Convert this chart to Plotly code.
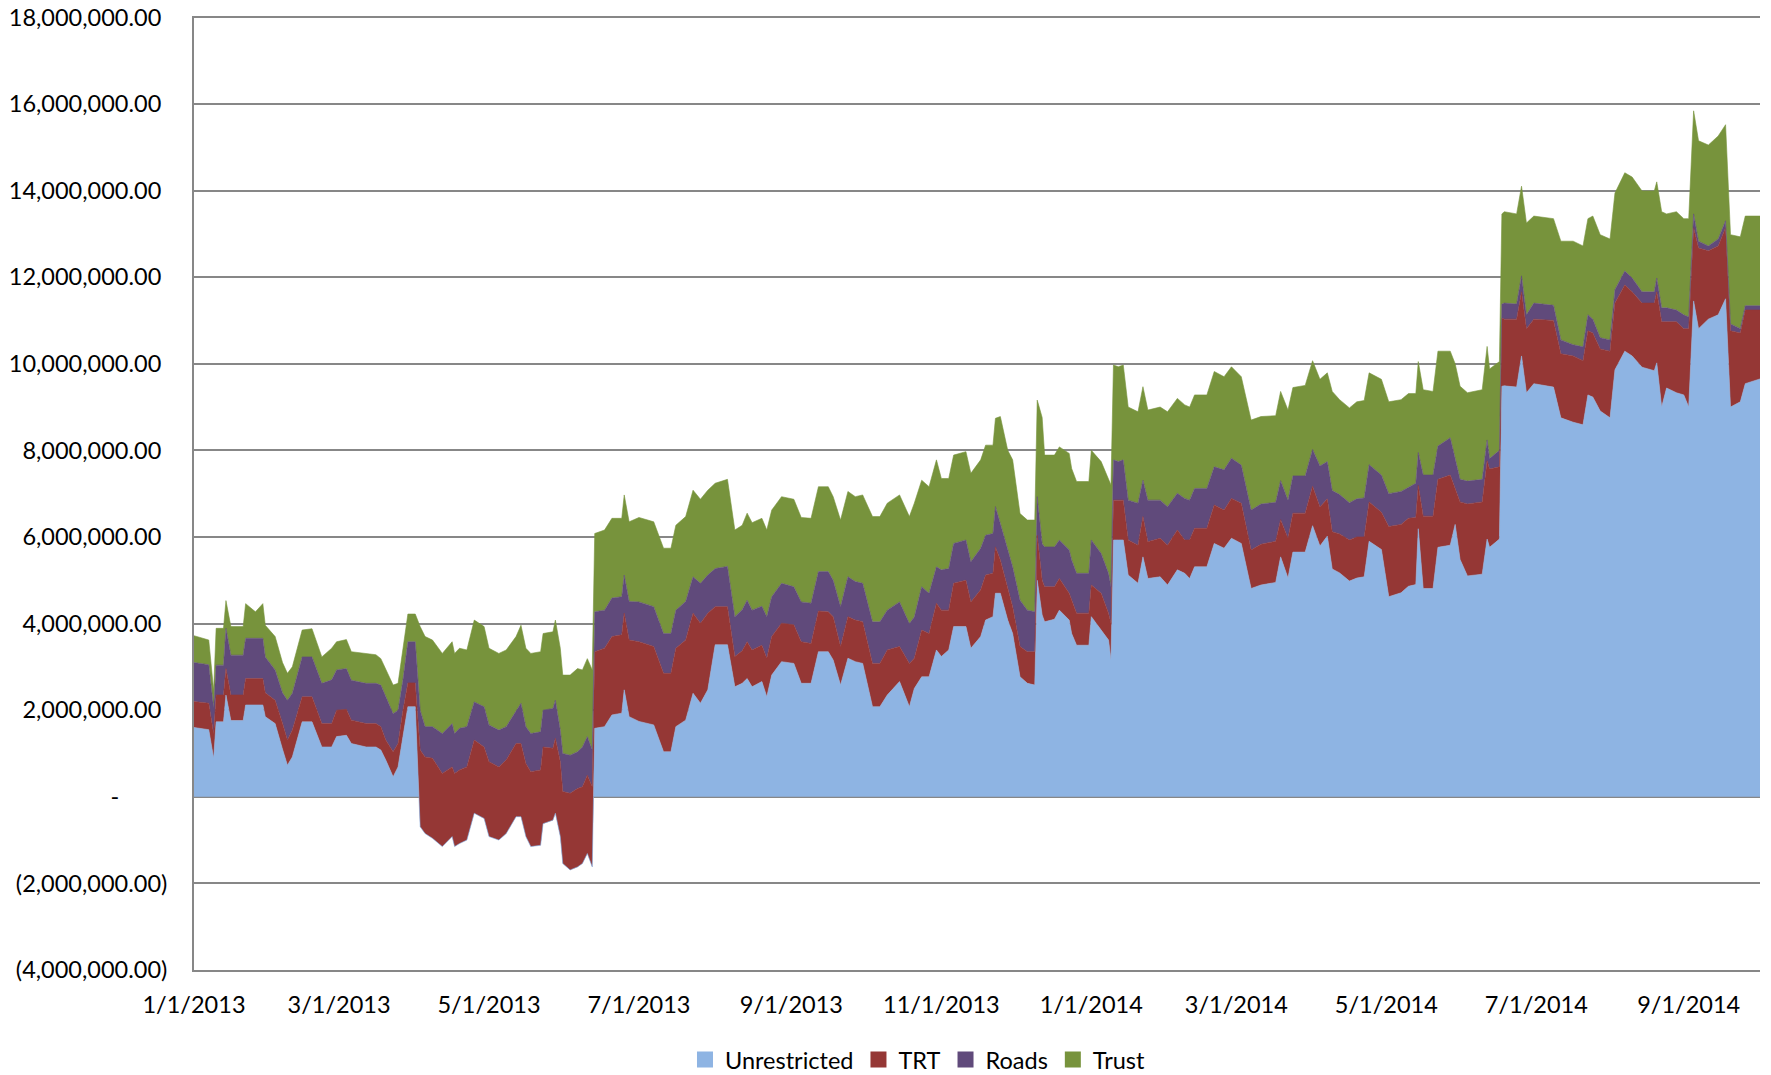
import plotly.graph_objects as go

dates = [
    "2013-01-01","2013-01-07","2013-01-09","2013-01-10","2013-01-13","2013-01-14","2013-01-16","2013-01-21",
    "2013-01-22","2013-01-26","2013-01-29","2013-01-30","2013-02-03","2013-02-06","2013-02-08","2013-02-10",
    "2013-02-14","2013-02-18","2013-02-22","2013-02-26","2013-02-28","2013-03-04","2013-03-06","2013-03-12",
    "2013-03-16","2013-03-18","2013-03-20","2013-03-23","2013-03-25","2013-03-27","2013-03-29","2013-04-01",
    "2013-04-03","2013-04-05","2013-04-08","2013-04-12","2013-04-16","2013-04-17","2013-04-19","2013-04-22",
    "2013-04-25","2013-04-29","2013-05-01","2013-05-05","2013-05-08","2013-05-12","2013-05-14","2013-05-16",
    "2013-05-18","2013-05-22","2013-05-23","2013-05-27","2013-05-28","2013-05-30","2013-05-31","2013-06-03",
    "2013-06-06","2013-06-08","2013-06-10","2013-06-12","2013-06-13","2013-06-17","2013-06-20","2013-06-24",
    "2013-06-25","2013-06-27","2013-07-01","2013-07-07","2013-07-11","2013-07-14","2013-07-16","2013-07-20",
    "2013-07-23","2013-07-26","2013-07-29","2013-08-01","2013-08-06","2013-08-09","2013-08-12","2013-08-14",
    "2013-08-16","2013-08-20","2013-08-22","2013-08-24","2013-08-28","2013-09-02","2013-09-05","2013-09-09",
    "2013-09-12","2013-09-16","2013-09-18","2013-09-21","2013-09-24","2013-09-27","2013-09-30","2013-10-04",
    "2013-10-07","2013-10-10","2013-10-15","2013-10-19","2013-10-21","2013-10-24","2013-10-27","2013-10-30",
    "2013-11-01","2013-11-04","2013-11-06","2013-11-11","2013-11-13","2013-11-17","2013-11-19","2013-11-22",
    "2013-11-23","2013-11-25","2013-11-28","2013-11-30","2013-12-03","2013-12-06","2013-12-09","2013-12-10",
    "2013-12-12","2013-12-13","2013-12-17","2013-12-19","2013-12-23","2013-12-24","2013-12-26","2013-12-31",
    "2014-01-01","2014-01-05","2014-01-08","2014-01-09","2014-01-10","2014-01-12","2014-01-14","2014-01-16",
    "2014-01-20","2014-01-22","2014-01-24","2014-01-29","2014-02-01","2014-02-05","2014-02-08","2014-02-10",
    "2014-02-12","2014-02-17","2014-02-20","2014-02-24","2014-02-27","2014-03-03","2014-03-07","2014-03-11",
    "2014-03-17","2014-03-19","2014-03-22","2014-03-24","2014-03-29","2014-04-01","2014-04-04","2014-04-07",
    "2014-04-09","2014-04-12","2014-04-16","2014-04-19","2014-04-22","2014-04-24","2014-04-29","2014-05-02",
    "2014-05-07","2014-05-10","2014-05-13","2014-05-14","2014-05-16","2014-05-20","2014-05-22","2014-05-27",
    "2014-05-29","2014-05-31","2014-06-03","2014-06-09","2014-06-11","2014-06-12","2014-06-16","2014-06-17",
    "2014-06-18","2014-06-23","2014-06-25","2014-06-27","2014-06-30","2014-07-08","2014-07-11","2014-07-16",
    "2014-07-20","2014-07-22","2014-07-24","2014-07-27","2014-07-31","2014-08-02","2014-08-06","2014-08-09",
    "2014-08-13","2014-08-18","2014-08-19","2014-08-21","2014-08-23","2014-08-27","2014-08-30","2014-09-01",
    "2014-09-03","2014-09-05","2014-09-09","2014-09-13","2014-09-16","2014-09-18","2014-09-22","2014-09-24",
    "2014-09-30",
]

# values in millions
unrestricted = [
    1.60,1.55,0.89,1.73,1.73,2.35,1.76,1.76,2.12,2.12,2.12,1.85,1.69,1.10,0.73,0.92,
    1.73,1.73,1.15,1.15,1.39,1.42,1.23,1.15,1.15,1.08,0.85,0.46,0.69,1.39,2.08,2.08,
    -0.69,-0.85,-0.96,-1.15,-0.92,-1.15,-1.08,-1.00,-0.38,-0.50,-0.92,-1.00,-0.85,-0.46,-0.46,-0.92,
    -1.15,-1.12,-0.62,-0.54,-0.38,-0.92,-1.54,-1.69,-1.62,-1.54,-1.31,-1.62,1.58,1.62,1.89,1.93,
    2.47,1.85,1.74,1.66,1.04,1.04,1.62,1.77,2.39,2.16,2.47,3.51,3.51,2.54,2.62,2.73,
    2.54,2.66,2.31,2.81,3.12,3.08,2.62,2.62,3.35,3.35,3.16,2.58,3.20,3.12,3.08,2.08,
    2.08,2.35,2.66,2.08,2.50,2.77,2.77,3.39,3.24,3.39,3.93,3.93,3.43,3.70,4.08,4.16,
    4.70,4.70,4.08,3.77,2.77,2.62,2.58,5.00,4.20,4.04,4.10,4.31,4.08,3.77,3.50,3.50,
    4.16,3.85,3.62,3.16,5.93,5.93,5.93,5.12,4.93,5.54,5.04,5.08,4.89,5.24,5.16,5.04,
    5.31,5.31,5.85,5.74,5.97,5.85,4.81,4.89,4.95,5.54,5.05,5.65,5.65,6.26,5.79,6.02,
    5.26,5.17,4.98,5.05,5.08,5.90,5.71,4.62,4.71,4.86,4.90,6.19,4.81,4.81,5.76,5.81,
    6.29,5.48,5.10,5.14,5.95,5.76,5.95,9.48,9.49,9.46,10.18,9.33,9.54,9.46,8.75,8.65,
    8.59,9.28,9.23,8.91,8.75,9.86,10.29,10.18,9.92,9.84,10.02,9.00,9.44,9.33,9.28,9.00,
    11.45,10.81,11.03,11.13,11.50,9.00,9.12,9.54,9.65,
]
trt = [
    0.60,0.61,0.56,0.62,0.62,0.61,0.59,0.59,0.61,0.61,0.61,0.55,0.54,0.60,0.58,0.62,
    0.58,0.58,0.54,0.54,0.61,0.60,0.54,0.54,0.54,0.54,0.46,0.58,0.54,0.61,0.55,0.55,
    1.77,1.77,1.85,1.69,1.61,1.69,1.70,1.69,1.69,1.65,1.73,1.69,1.70,1.69,1.69,1.69,
    1.73,1.74,1.77,1.66,1.73,1.73,1.66,1.77,1.81,1.77,1.81,1.85,1.77,1.81,1.81,1.81,
    1.77,1.77,1.84,1.81,1.81,1.81,1.81,1.85,1.85,1.85,1.77,0.88,0.88,0.70,0.75,0.85,
    0.85,0.84,0.89,0.89,0.89,0.89,0.96,0.92,0.94,0.92,1.00,0.89,0.96,0.96,0.96,1.00,
    1.00,1.04,0.81,1.00,0.70,1.08,1.00,1.08,1.07,0.92,1.00,1.07,1.07,1.08,1.04,1.00,
    1.07,0.77,0.77,0.62,0.70,0.73,0.77,1.04,0.80,0.81,0.75,0.73,0.62,0.77,0.74,0.74,
    0.73,0.85,0.62,0.84,0.92,0.92,0.92,0.81,0.88,0.93,0.85,0.89,0.92,0.92,0.77,0.89,
    0.89,0.89,0.89,0.88,0.92,0.93,0.89,0.94,0.95,0.86,0.92,0.90,0.90,0.91,0.90,0.86,
    0.86,0.90,0.95,0.95,0.92,0.91,0.86,1.62,1.58,1.57,1.55,1.00,1.67,1.67,1.57,1.62,
    0.85,1.33,1.66,1.67,1.81,1.81,1.67,1.57,1.54,1.57,1.48,1.48,1.49,1.54,1.48,1.53,
    1.48,1.48,1.48,1.43,1.54,1.54,1.53,1.48,1.48,1.56,1.64,1.97,1.53,1.64,1.53,1.81,
    1.69,1.86,1.58,1.59,1.64,1.76,1.59,1.70,1.59,
]
roads = [
    0.90,0.89,0.60,0.69,0.69,0.93,0.92,0.92,0.93,0.93,0.93,0.83,0.70,0.70,0.92,0.85,
    0.92,0.92,0.93,1.01,0.93,0.94,0.92,0.93,0.93,0.96,1.00,0.88,0.77,0.70,0.95,0.95,
    0.92,0.70,0.73,0.92,1.00,0.92,0.96,0.93,0.88,0.93,0.85,0.85,0.77,0.77,0.93,0.85,
    0.88,0.88,0.85,0.92,0.88,0.73,0.88,0.88,0.85,0.92,0.89,0.85,0.92,0.88,0.89,0.88,
    0.88,0.89,0.92,0.92,0.92,0.92,0.88,0.89,0.84,0.92,0.88,0.88,0.93,0.92,0.95,0.96,
    0.92,0.90,0.96,0.92,0.92,0.88,0.92,0.93,0.91,0.93,0.84,0.92,0.92,0.89,0.89,0.96,
    0.96,0.92,1.03,0.92,0.95,1.00,0.93,0.84,0.93,0.96,0.92,0.93,0.93,0.96,0.92,0.92,
    0.93,0.84,0.85,0.92,1.07,0.96,0.92,0.89,0.85,0.92,0.92,0.89,1.00,0.93,0.92,0.92,
    1.04,0.92,0.92,0.85,0.93,0.89,0.93,0.92,0.97,0.84,0.96,0.88,0.89,0.85,0.96,0.92,
    0.92,0.92,0.88,0.93,0.93,0.88,0.92,0.93,0.90,0.90,0.88,0.86,0.86,0.85,0.95,0.86,
    0.95,0.91,0.86,0.88,0.90,0.86,0.86,0.76,0.76,0.71,0.79,0.76,0.95,0.95,0.77,0.86,
    0.67,0.52,0.53,0.52,0.48,0.24,0.38,0.33,0.37,0.35,0.37,0.32,0.37,0.35,0.32,0.26,
    0.32,0.37,0.32,0.26,0.26,0.31,0.32,0.32,0.26,0.26,0.32,0.32,0.32,0.27,0.32,0.27,
    0.32,0.16,0.11,0.16,0.16,0.16,0.10,0.10,0.10,
]
trust = [
    0.62,0.57,0.41,0.85,0.85,0.64,0.66,0.66,0.80,0.61,0.80,0.73,0.77,0.70,0.62,0.61,
    0.62,0.65,0.61,0.73,0.65,0.67,0.66,0.69,0.66,0.61,0.62,0.66,0.62,0.73,0.64,0.64,
    1.93,2.08,2.00,1.85,1.89,1.85,1.85,1.77,1.89,1.85,1.77,1.77,1.77,1.70,1.80,1.81,
    1.85,1.85,1.77,1.77,1.85,1.89,1.81,1.85,1.92,1.78,1.80,1.85,1.81,1.85,1.84,1.81,
    1.85,1.84,1.95,1.96,1.97,1.97,1.96,1.96,2.00,1.94,1.96,1.97,2.01,2.00,1.95,2.01,
    2.02,2.03,2.00,2.00,2.00,2.02,1.95,1.96,1.96,1.96,1.93,2.00,1.97,1.96,2.04,2.43,
    2.43,2.47,2.47,2.47,2.63,2.46,2.46,2.47,2.11,2.08,2.04,2.04,2.04,2.04,2.08,2.04,
    2.04,2.47,2.30,2.47,2.00,2.08,2.12,2.23,2.91,2.12,2.12,2.15,2.23,2.11,2.12,2.12,
    2.07,2.12,2.15,2.35,2.19,2.19,2.19,2.15,2.11,2.16,2.08,2.15,2.19,2.19,2.16,2.15,
    2.16,2.16,2.20,2.15,2.11,2.04,2.08,2.02,2.00,2.06,2.08,2.04,2.09,2.05,2.00,2.05,
    2.29,2.19,2.19,2.24,2.25,2.12,2.21,2.12,2.12,2.17,2.07,2.10,1.97,1.93,2.19,2.00,
    2.19,2.15,2.04,2.07,2.16,2.07,2.05,2.08,2.11,2.08,2.07,2.12,2.01,2.00,2.28,2.39,
    2.33,2.22,2.38,2.38,2.33,2.23,2.27,2.33,2.33,2.33,2.22,2.22,2.17,2.27,2.22,2.27,
    2.38,2.32,2.33,2.38,2.22,2.06,2.12,2.07,2.07,
]

series_names = ["Unrestricted", "TRT", "Roads", "Trust"]
series_colors = ["#8EB4E3", "#953735", "#604A7B", "#77933C"]

y_tickvals = [-4, -2, 0, 2, 4, 6, 8, 10, 12, 14, 16, 18]
y_ticktext = ["(4,000,000.00)", "(2,000,000.00)", "-\u00a0\u00a0\u00a0\u00a0\u00a0\u00a0\u00a0\u00a0",
              "2,000,000.00\u00a0", "4,000,000.00\u00a0", "6,000,000.00\u00a0", "8,000,000.00\u00a0",
              "10,000,000.00\u00a0", "12,000,000.00\u00a0", "14,000,000.00\u00a0",
              "16,000,000.00\u00a0", "18,000,000.00\u00a0"]
x_tickvals = ["2013-01-01", "2013-03-01", "2013-05-01", "2013-07-01", "2013-09-01", "2013-11-01",
              "2014-01-01", "2014-03-01", "2014-05-01", "2014-07-01", "2014-09-01"]
x_ticktext = ["1/1/2013", "3/1/2013", "5/1/2013", "7/1/2013", "9/1/2013", "11/1/2013",
              "1/1/2014", "3/1/2014", "5/1/2014", "7/1/2014", "9/1/2014"]

FONT = "Lato, 'Liberation Sans', Arial, sans-serif"
M = 1e6

fig = go.Figure()
for name, vals, col in zip(series_names, [unrestricted, trt, roads, trust], series_colors):
    fig.add_trace(go.Scatter(
        x=dates, y=[v * M for v in vals], name=name, stackgroup="one", mode="lines",
        line=dict(width=0.6, color=col), fillcolor=col, showlegend=False,
    ))
for name, col in zip(series_names, series_colors):
    fig.add_trace(go.Scatter(
        x=[None], y=[None], name=name, mode="markers",
        marker=dict(symbol="square", size=17, color=col), showlegend=True,
    ))

fig.update_layout(
    width=1771, height=1075,
    margin=dict(l=194, r=11, t=16, b=105, autoexpand=False),
    paper_bgcolor="white", plot_bgcolor="white",
    font=dict(family=FONT, size=23.5, color="#000000"),
    legend=dict(orientation="h", x=0.462, xanchor="center", y=-0.094, yanchor="middle",
                font=dict(size=23.5), itemsizing="trace", traceorder="normal", itemwidth=30),
    xaxis=dict(type="date", range=["2013-01-01", "2014-09-30"], tickvals=x_tickvals,
               ticktext=x_ticktext, showgrid=False, showline=True, linecolor="#878787",
               linewidth=2, ticks="", zeroline=False, ticklabelstandoff=13,
               ticklabeloverflow="allow"),
    yaxis=dict(range=[-4 * M, 18.03 * M], tickvals=[v * M for v in y_tickvals], ticktext=y_ticktext,
               showgrid=True, gridcolor="#878787", gridwidth=2, showline=True, linecolor="#878787",
               linewidth=2, zeroline=False, ticks="", ticklabelstandoff=20,
               ticklabeloverflow="allow"),
    hovermode=False,
)

fig.write_html("out.html", config={"displayModeBar": False, "staticPlot": True},
               post_script="document.body.style.margin='0';document.body.style.overflow='hidden';")
